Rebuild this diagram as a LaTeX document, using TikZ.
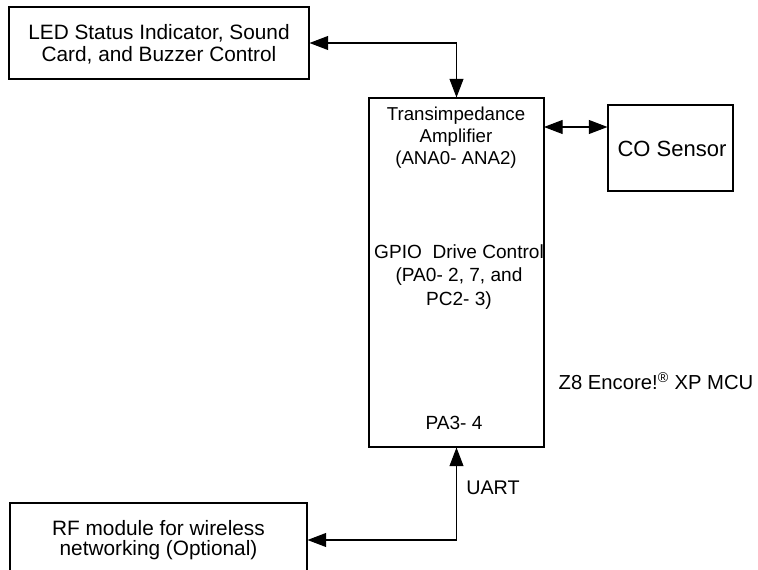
\documentclass[tikz,border=0pt]{standalone}
\usepackage{fontspec}
\setmainfont{Liberation Sans}
\usetikzlibrary{arrows.meta}

\tikzset{
  blockbox/.style={draw, line width=0.8pt, inner sep=0pt},
  blocktext/.style={inner sep=0.75pt, align=center},
  biarrow/.style={line width=0.8pt, {Triangle[length=14pt,width=10.5pt]}-{Triangle[length=14pt,width=10.5pt]}}
}

\begin{document}
\begin{tikzpicture}[x=0.75pt,y=0.75pt,yscale=-1,xscale=1]
    \useasboundingbox (0,0) rectangle (758,570);
    \clip (0,0) rectangle (758,570);

    %Shape: Rectangle [id:led]
    \node (led) at (159,43) [blockbox, minimum width=225pt, minimum height=54pt] {};
    %Shape: Rectangle [id:mcu]
    \node (mcu) at (456.5,272.5) [blockbox, minimum width=131.25pt, minimum height=261.75pt] {};
    %Shape: Rectangle [id:co]
    \node (co) at (670.5,148) [blockbox, minimum width=93.75pt, minimum height=64.5pt] {};
    %Shape: Rectangle [id:rf]
    \node (rf) at (158.5,540) [blockbox, minimum width=222.75pt, minimum height=55.5pt] {};

    % Text Node
    \node (ledtext) at (159,44) [blocktext, font=\fontsize{15.6}{16.6}\selectfont] {LED Status Indicator, Sound\\ Card, and Buzzer Control};
    % Text Node
    \node (amptext) at (456,138) [blocktext, font=\fontsize{14}{16.5}\selectfont] {Transimpedance\\ Amplifier\\ (ANA0- ANA2)};
    % Text Node
    \node (gpiotext) at (459,277) [blocktext, font=\fontsize{14.3}{17.5}\selectfont] {GPIO\ \ Drive Control\\ (PA0- 2, 7, and\\ PC2- 3)};
    % Text Node
    \node (patext) at (454,423) [blocktext, font=\fontsize{14.3}{16}\selectfont] {PA3- 4};
    % Text Node
    \node (cotext) at (672,149) [blocktext, font=\fontsize{16.5}{18}\selectfont] {CO Sensor};
    % Text Node
    \node (rftext) at (158.5,540) [blocktext, font=\fontsize{15.6}{14.8}\selectfont] {RF module for wireless\\ networking (Optional)};
    % Text Node
    \node (mculabel) at (656,381) [blocktext, font=\fontsize{15.2}{17}\selectfont] {Z8 Encore!\textsuperscript{\textregistered} XP MCU};
    % Text Node
    \node (uart) at (465,488) [blocktext, anchor=west, font=\fontsize{14.8}{17}\selectfont] {UART};

    \coordinate (ampport) at (544,127);

    %Connectors
    \draw [biarrow] (led.east) -| (mcu.north);
    \draw [biarrow] (ampport) -- (ampport -| co.west);
    \draw [biarrow] (rf.east) -| (mcu.south);

\end{tikzpicture}
\end{document}
